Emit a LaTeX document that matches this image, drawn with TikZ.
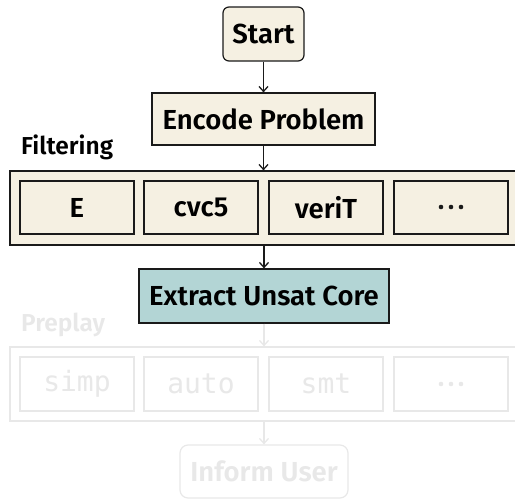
\documentclass[tikz,border=0pt]{standalone}
\usepackage{fontspec}
\usetikzlibrary{arrows.meta}
\setmainfont{Fira Sans}[BoldFont={Fira Sans SemiBold}]
\setmonofont{DejaVu Sans Mono}
\definecolor{beige}{HTML}{F5F0E2}
\definecolor{teal}{HTML}{B3D5D5}
\definecolor{faint}{HTML}{E8E8E8}
\definecolor{edge}{HTML}{1A1A1A}
\begin{document}
\begin{tikzpicture}[x=1pt,y=-1pt,
  box/.style={draw=edge,line width=1.2pt,fill=beige,inner sep=0pt,font=\fontsize{27.5}{30}\selectfont\bfseries},
  fbox/.style={draw=faint,line width=1.2pt,fill=white,inner sep=0pt,text=faint},
  arr/.style={-{Straight Barb[length=5pt,width=9pt]},line width=1.3pt,draw=edge},
  farr/.style={-{Straight Barb[length=5pt,width=9pt]},line width=1.3pt,draw=faint},
  lbl/.style={anchor=base west,inner sep=0pt,font=\fontsize{24.5}{26}\selectfont\bfseries}]
\useasboundingbox (0,0) rectangle (515,499);
% nodes
\node[box,rounded corners=6pt,minimum width=81pt,minimum height=54pt] (start) at (263.5,34) {Start};
\node[box,minimum width=223pt,minimum height=52pt] (enc) at (263.5,119) {Encode Problem};
\node[lbl] (filt) at (21,154) {Filtering};
\node[draw=edge,line width=1.2pt,fill=beige,minimum width=530pt,minimum height=74pt,inner sep=0pt] (fgrp) at (275,208) {};
\node[box,minimum width=114pt,minimum height=53pt] (e) at (77,207.5) {E};
\node[box,minimum width=114pt,minimum height=53pt] (cvc) at (201,207.5) {cvc5};
\node[box,minimum width=114pt,minimum height=53pt] (verit) at (326,207.5) {veriT};
\node[box,minimum width=114pt,minimum height=53pt] (dots1) at (451,207.5) {};
\fill[edge] (441,207) circle (2.3pt) (451,207) circle (2.3pt) (461,207) circle (2.3pt);
\node[box,fill=teal,minimum width=250pt,minimum height=54pt] (core) at (264,296) {Extract Unsat Core};
\node[lbl,text=faint] (prep) at (21,331) {Preplay};
\node[fbox,minimum width=530pt,minimum height=74pt] (pgrp) at (275,384) {};
\foreach \n/\x/\t in {simp/77/simp,auto/201/auto,smt/326/smt}
  \node[fbox,minimum width=114pt,minimum height=54pt,font=\fontsize{28}{30}\selectfont\ttfamily] (\n) at (\x,384) {\t};
\node[fbox,minimum width=114pt,minimum height=54pt] (dots2) at (451,384) {};
\fill[faint] (441,384) circle (2.3pt) (451,384) circle (2.3pt) (461,384) circle (2.3pt);
\node[fbox,rounded corners=8pt,minimum width=168pt,minimum height=53pt,font=\fontsize{27.5}{30}\selectfont\bfseries] (inform) at (264,471.5) {Inform User};
% connectors
\draw[arr] (start.south) -- (enc.north);
\draw[arr] (enc.south) -- (enc.south |- fgrp.north);
\draw[arr] (core.north |- fgrp.south) -- (core.north);
\draw[farr] (core.south) -- (core.south |- pgrp.north);
\draw[farr] (inform.north |- pgrp.south) -- (inform.north);
\end{tikzpicture}
\end{document}
